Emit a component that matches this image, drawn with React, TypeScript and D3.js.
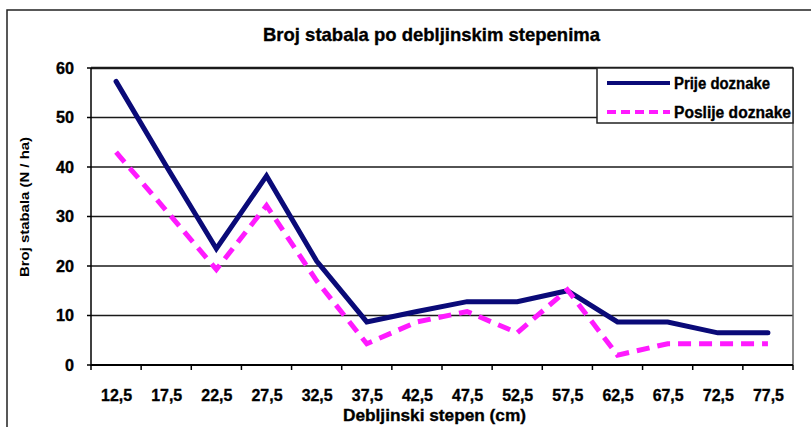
import React from "react";
import * as d3 from "d3";

const categories = ["12,5", "17,5", "22,5", "27,5", "32,5", "37,5", "42,5", "47,5", "52,5", "57,5", "62,5", "67,5", "72,5", "77,5"];
const prije = [57.3, 40.2, 23.5, 38.2, 21, 8.7, 10.8, 12.8, 12.8, 15, 8.7, 8.7, 6.5, 6.5];
const poslije = [43, 31.2, 19.3, 32.2, 17, 4.3, 8.7, 10.8, 6.5, 15.2, 2, 4.3, 4.3, 4.3];
const yTicks = [0, 10, 20, 30, 40, 50, 60];
const seriesNames = ["Prije doznake", "Poslije doznake"];
const title = "Broj stabala po debljinskim stepenima";
const xTitle = "Debljinski stepen (cm)";
const yTitle = "Broj stabala (N / ha)";

const W = 811;
const H = 427;
const FONT = "'Liberation Sans', Arial, sans-serif";

export default function App() {
  const left = 91, right = 793, top = 68, bottom = 365;
  const x = d3.scaleBand<string>().domain(categories).range([left, right]);
  const y = d3.scaleLinear().domain([0, 60]).range([bottom, top]);
  const line = d3.line<number>()
    .x((_, i) => (x(categories[i]) as number) + x.bandwidth() / 2)
    .y((d) => y(d));
  const boundaries = categories.map((c) => x(c) as number).concat([right]);
  const bold = { fontFamily: FONT, fontWeight: "bold" as const, fill: "#000", stroke: "#000", strokeWidth: 0.35, lengthAdjust: "spacingAndGlyphs" as const };

  return (
    <svg width={W} height={H} style={{ position: "absolute", left: 0, top: 0 }}>
      <rect x={0} y={0} width={W} height={H} fill="#fff" />
      {/* outer frame */}
      <path d={`M7,${H + 2} L7,10 L${W + 2},10`} fill="none" stroke="#222" strokeWidth={1.5} />
      {/* title */}
      <text x={263} y={41} textLength={337} fontSize={19} {...bold}>{title}</text>
      {/* gridlines */}
      {yTicks.map((t) => (
        <line key={t} x1={left} x2={right} y1={y(t)} y2={y(t)} stroke="#1a1a1a" strokeWidth={t === 60 ? 2.5 : 1.5} />
      ))}
      {/* right border */}
      <line x1={right} x2={right} y1={top} y2={bottom} stroke="#666" strokeWidth={1.5} />
      {/* y axis */}
      <line x1={left} x2={left} y1={top} y2={bottom + 1} stroke="#000" strokeWidth={1.5} />
      {yTicks.map((t) => (
        <g key={"yt" + t}>
          <line x1={left - 4} x2={left} y1={y(t)} y2={y(t)} stroke="#000" strokeWidth={1.5} />
          <text x={74} y={y(t)} dy="0.35em" textAnchor="end" fontSize={16} textLength={t === 0 ? 9 : 18} {...bold}>{t}</text>
        </g>
      ))}
      {/* x axis ticks */}
      <line x1={left} x2={right} y1={bottom} y2={bottom} stroke="#000" strokeWidth={2} />
      {boundaries.map((b, i) => (
        <line key={"xt" + i} x1={b} x2={b} y1={bottom} y2={bottom + 5} stroke="#000" strokeWidth={1.5} />
      ))}
      {categories.map((c) => (
        <text key={c} x={(x(c) as number) + x.bandwidth() / 2 - 15} y={395} dy="0.35em" fontSize={17} textLength={31} {...bold}>{c}</text>
      ))}
      {/* axis titles */}
      <text x={343} y={415} dy="0.35em" textLength={183} fontSize={17} {...bold}>{xTitle}</text>
      <text transform={`translate(25,277) rotate(-90)`} dy="0.35em" textLength={140} fontFamily={FONT} fontWeight="bold" fontSize={12.5} fill="#000" lengthAdjust="spacingAndGlyphs">{yTitle}</text>
      {/* series */}
      <path d={line(prije) || ""} fill="none" stroke="#0a0a78" strokeWidth={5} strokeLinejoin="miter" strokeLinecap="round" />
      <path d={line(poslije) || ""} fill="none" stroke="#ff1aff" strokeWidth={5} strokeDasharray="13 8" strokeLinecap="butt" />
      {/* legend */}
      <rect x={597} y={68} width={196} height={55} fill="#fff" stroke="#222" strokeWidth={1.5} />
      <line x1={607} x2={670} y1={83} y2={83} stroke="#0a0a78" strokeWidth={4} />
      <line x1={607} x2={670} y1={112} y2={112} stroke="#ff1aff" strokeWidth={4} strokeDasharray="9 5" />
      <text x={674} y={83} dy="0.35em" textLength={96} fontSize={16} {...bold}>{seriesNames[0]}</text>
      <text x={674} y={112} dy="0.35em" textLength={117} fontSize={16} {...bold}>{seriesNames[1]}</text>
    </svg>
  );
}
